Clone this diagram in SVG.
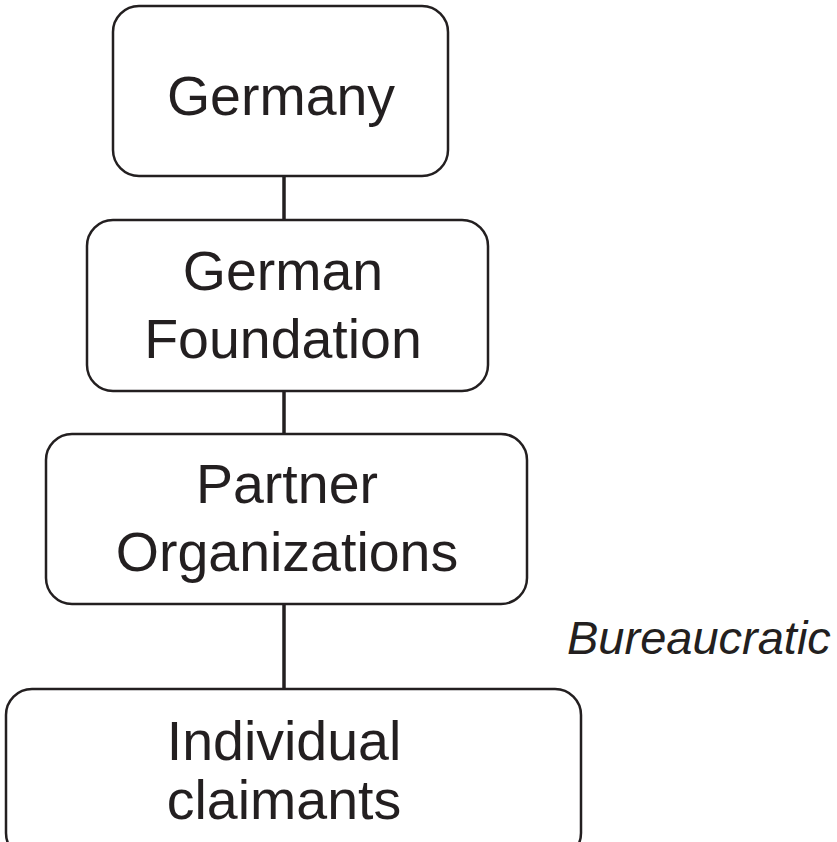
<svg xmlns="http://www.w3.org/2000/svg" width="837" height="842" viewBox="0 0 837 842">
<style>
.box{fill:#fff;stroke:#231f20;stroke-width:2.5}
.lbl{font-family:"Liberation Sans",Arial,sans-serif;font-size:55.5px;fill:#231f20;text-anchor:middle}
.conn{stroke:#231f20;stroke-width:3.5;fill:none}
.note{font-family:"Liberation Sans",Arial,sans-serif;font-size:47px;font-style:italic;fill:#231f20}
</style>
<rect width="837" height="842" fill="#fff"/>
<g id="connectors">
<line class="conn" x1="284" y1="176" x2="284" y2="220"/>
<line class="conn" x1="284" y1="391" x2="284" y2="434"/>
<line class="conn" x1="284" y1="604" x2="284" y2="689"/>
</g>
<g id="germany">
<rect class="box" x="113" y="6" width="335" height="170" rx="26"/>
<text class="lbl" x="281" y="115">Germany</text>
</g>
<g id="german-foundation">
<rect class="box" x="87" y="220" width="401" height="171" rx="26"/>
<text class="lbl" x="283" y="290">German</text>
<text class="lbl" x="283" y="358">Foundation</text>
</g>
<g id="partner-organizations">
<rect class="box" x="46" y="434" width="481" height="170" rx="26"/>
<text class="lbl" x="287" y="503">Partner</text>
<text class="lbl" x="287" y="571">Organizations</text>
</g>
<g id="individual-claimants">
<rect class="box" x="6" y="689" width="575" height="170" rx="26"/>
<text class="lbl" x="284" y="760">Individual</text>
<text class="lbl" x="284" y="819">claimants</text>
</g>
<text class="note" x="567" y="654">Bureaucratic</text>
</svg>
